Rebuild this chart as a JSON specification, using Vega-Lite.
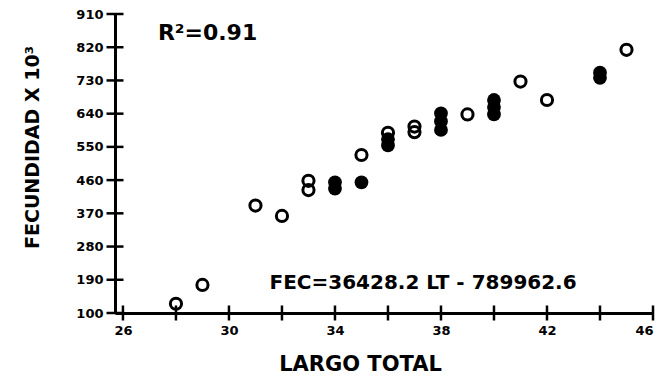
{
  "$schema": "https://vega.github.io/schema/vega-lite/v6.json",
  "width": 538,
  "height": 299,
  "autosize": "none",
  "padding": {"left": 115, "top": 14, "right": 7, "bottom": 65},
  "background": "white",
  "config": {
    "view": {"stroke": null},
    "axis": {
      "grid": false,
      "domainColor": "black",
      "domainWidth": 3,
      "ticks": false,
      "tickSize": 0,
      "labelFont": "DejaVu Sans",
      "labelFontWeight": "bold",
      "labelFontSize": 13,
      "labelColor": "black",
      "titleColor": "black",
      "titleFont": "DejaVu Sans",
      "titleFontWeight": "bold"
    },
    "axisX": {
      "labelPadding": 11,
      "titleFontSize": 21,
      "titleX": 245,
      "titleY": 57,
      "titleAlign": "center",
      "titleBaseline": "alphabetic"
    },
    "axisY": {
      "labelPadding": 12,
      "titleFontSize": 19,
      "titleX": -77,
      "titleY": 133,
      "titleAngle": -90,
      "titleAlign": "center",
      "titleBaseline": "alphabetic"
    }
  },
  "datasets": {
    "peces": [
      {"lt": 28, "fec": 125, "tipo": "abierto"},
      {"lt": 29, "fec": 176, "tipo": "abierto"},
      {"lt": 31, "fec": 391, "tipo": "abierto"},
      {"lt": 32, "fec": 363, "tipo": "abierto"},
      {"lt": 33, "fec": 458, "tipo": "abierto"},
      {"lt": 33, "fec": 433, "tipo": "abierto"},
      {"lt": 34, "fec": 454, "tipo": "lleno"},
      {"lt": 34, "fec": 437, "tipo": "lleno"},
      {"lt": 35, "fec": 454, "tipo": "lleno"},
      {"lt": 35, "fec": 528, "tipo": "abierto"},
      {"lt": 36, "fec": 588, "tipo": "abierto"},
      {"lt": 36, "fec": 571, "tipo": "lleno"},
      {"lt": 36, "fec": 554, "tipo": "lleno"},
      {"lt": 37, "fec": 605, "tipo": "abierto"},
      {"lt": 37, "fec": 590, "tipo": "abierto"},
      {"lt": 38, "fec": 641, "tipo": "lleno"},
      {"lt": 38, "fec": 619, "tipo": "lleno"},
      {"lt": 38, "fec": 596, "tipo": "lleno"},
      {"lt": 39, "fec": 638, "tipo": "abierto"},
      {"lt": 40, "fec": 677, "tipo": "lleno"},
      {"lt": 40, "fec": 658, "tipo": "lleno"},
      {"lt": 40, "fec": 638, "tipo": "lleno"},
      {"lt": 41, "fec": 727, "tipo": "abierto"},
      {"lt": 42, "fec": 677, "tipo": "abierto"},
      {"lt": 44, "fec": 751, "tipo": "lleno"},
      {"lt": 44, "fec": 737, "tipo": "lleno"},
      {"lt": 45, "fec": 813, "tipo": "abierto"}
    ],
    "marcas_lt": [
      {"lt": 26}, {"lt": 28}, {"lt": 30}, {"lt": 32}, {"lt": 34}, {"lt": 36},
      {"lt": 38}, {"lt": 40}, {"lt": 42}, {"lt": 44}, {"lt": 46}
    ],
    "marcas_fec": [
      {"fec": 100}, {"fec": 190}, {"fec": 280}, {"fec": 370}, {"fec": 460},
      {"fec": 550}, {"fec": 640}, {"fec": 730}, {"fec": 820}, {"fec": 910}
    ]
  },
  "layer": [
    {
      "data": {"name": "marcas_lt"},
      "mark": {"type": "tick", "orient": "vertical", "color": "black", "thickness": 2.5, "size": 15, "opacity": 1},
      "encoding": {
        "x": {"field": "lt", "type": "quantitative", "scale": {"domain": [25.7, 46], "nice": false, "zero": false}, "title": "LARGO TOTAL", "axis": {"values": [26, 30, 34, 38, 42, 46], "format": "d"}},
        "y": {"datum": 100, "type": "quantitative", "scale": {"domain": [100, 910], "nice": false, "zero": false}, "title": "FECUNDIDAD X 10³", "axis": {"values": [100, 190, 280, 370, 460, 550, 640, 730, 820, 910], "format": "d"}}
      }
    },
    {
      "data": {"name": "marcas_fec"},
      "mark": {"type": "tick", "orient": "horizontal", "color": "black", "thickness": 2.5, "size": 17, "opacity": 1},
      "encoding": {
        "x": {"datum": 25.7, "type": "quantitative", "scale": {"domain": [25.7, 46], "nice": false, "zero": false}, "title": "LARGO TOTAL", "axis": {"values": [26, 30, 34, 38, 42, 46], "format": "d"}},
        "y": {"field": "fec", "type": "quantitative", "scale": {"domain": [100, 910], "nice": false, "zero": false}, "title": "FECUNDIDAD X 10³", "axis": {"values": [100, 190, 280, 370, 460, 550, 640, 730, 820, 910], "format": "d"}}
      }
    },
    {
      "data": {"name": "peces"},
      "transform": [{"filter": "datum.tipo === 'lleno'"}],
      "mark": {"type": "point", "shape": "circle", "filled": true, "color": "black", "size": 190, "opacity": 1},
      "encoding": {
        "x": {"field": "lt", "type": "quantitative", "scale": {"domain": [25.7, 46], "nice": false, "zero": false}, "title": "LARGO TOTAL", "axis": {"values": [26, 30, 34, 38, 42, 46], "format": "d"}},
        "y": {"field": "fec", "type": "quantitative", "scale": {"domain": [100, 910], "nice": false, "zero": false}, "title": "FECUNDIDAD X 10³", "axis": {"values": [100, 190, 280, 370, 460, 550, 640, 730, 820, 910], "format": "d"}}
      }
    },
    {
      "data": {"name": "peces"},
      "transform": [{"filter": "datum.tipo === 'abierto'"}],
      "mark": {"type": "point", "shape": "circle", "filled": false, "stroke": "black", "strokeWidth": 3, "size": 125, "opacity": 1},
      "encoding": {
        "x": {"field": "lt", "type": "quantitative", "scale": {"domain": [25.7, 46], "nice": false, "zero": false}, "title": "LARGO TOTAL", "axis": {"values": [26, 30, 34, 38, 42, 46], "format": "d"}},
        "y": {"field": "fec", "type": "quantitative", "scale": {"domain": [100, 910], "nice": false, "zero": false}, "title": "FECUNDIDAD X 10³", "axis": {"values": [100, 190, 280, 370, 460, 550, 640, 730, 820, 910], "format": "d"}}
      }
    },
    {
      "data": {"values": [{"lt": 27.32, "fec": 840, "texto": "R²=0.91"}]},
      "mark": {"type": "text", "align": "left", "baseline": "alphabetic", "font": "DejaVu Sans", "fontWeight": "bold", "fontSize": 22, "color": "black"},
      "encoding": {
        "x": {"field": "lt", "type": "quantitative", "scale": {"domain": [25.7, 46], "nice": false, "zero": false}, "title": "LARGO TOTAL", "axis": {"values": [26, 30, 34, 38, 42, 46], "format": "d"}},
        "y": {"field": "fec", "type": "quantitative", "scale": {"domain": [100, 910], "nice": false, "zero": false}, "title": "FECUNDIDAD X 10³", "axis": {"values": [100, 190, 280, 370, 460, 550, 640, 730, 820, 910], "format": "d"}},
        "text": {"field": "texto"}
      }
    },
    {
      "data": {"values": [{"lt": 31.53, "fec": 166, "texto": "FEC=36428.2 LT - 789962.6"}]},
      "mark": {"type": "text", "align": "left", "baseline": "alphabetic", "font": "DejaVu Sans", "fontWeight": "bold", "fontSize": 20, "color": "black"},
      "encoding": {
        "x": {"field": "lt", "type": "quantitative", "scale": {"domain": [25.7, 46], "nice": false, "zero": false}, "title": "LARGO TOTAL", "axis": {"values": [26, 30, 34, 38, 42, 46], "format": "d"}},
        "y": {"field": "fec", "type": "quantitative", "scale": {"domain": [100, 910], "nice": false, "zero": false}, "title": "FECUNDIDAD X 10³", "axis": {"values": [100, 190, 280, 370, 460, 550, 640, 730, 820, 910], "format": "d"}},
        "text": {"field": "texto"}
      }
    }
  ]
}
